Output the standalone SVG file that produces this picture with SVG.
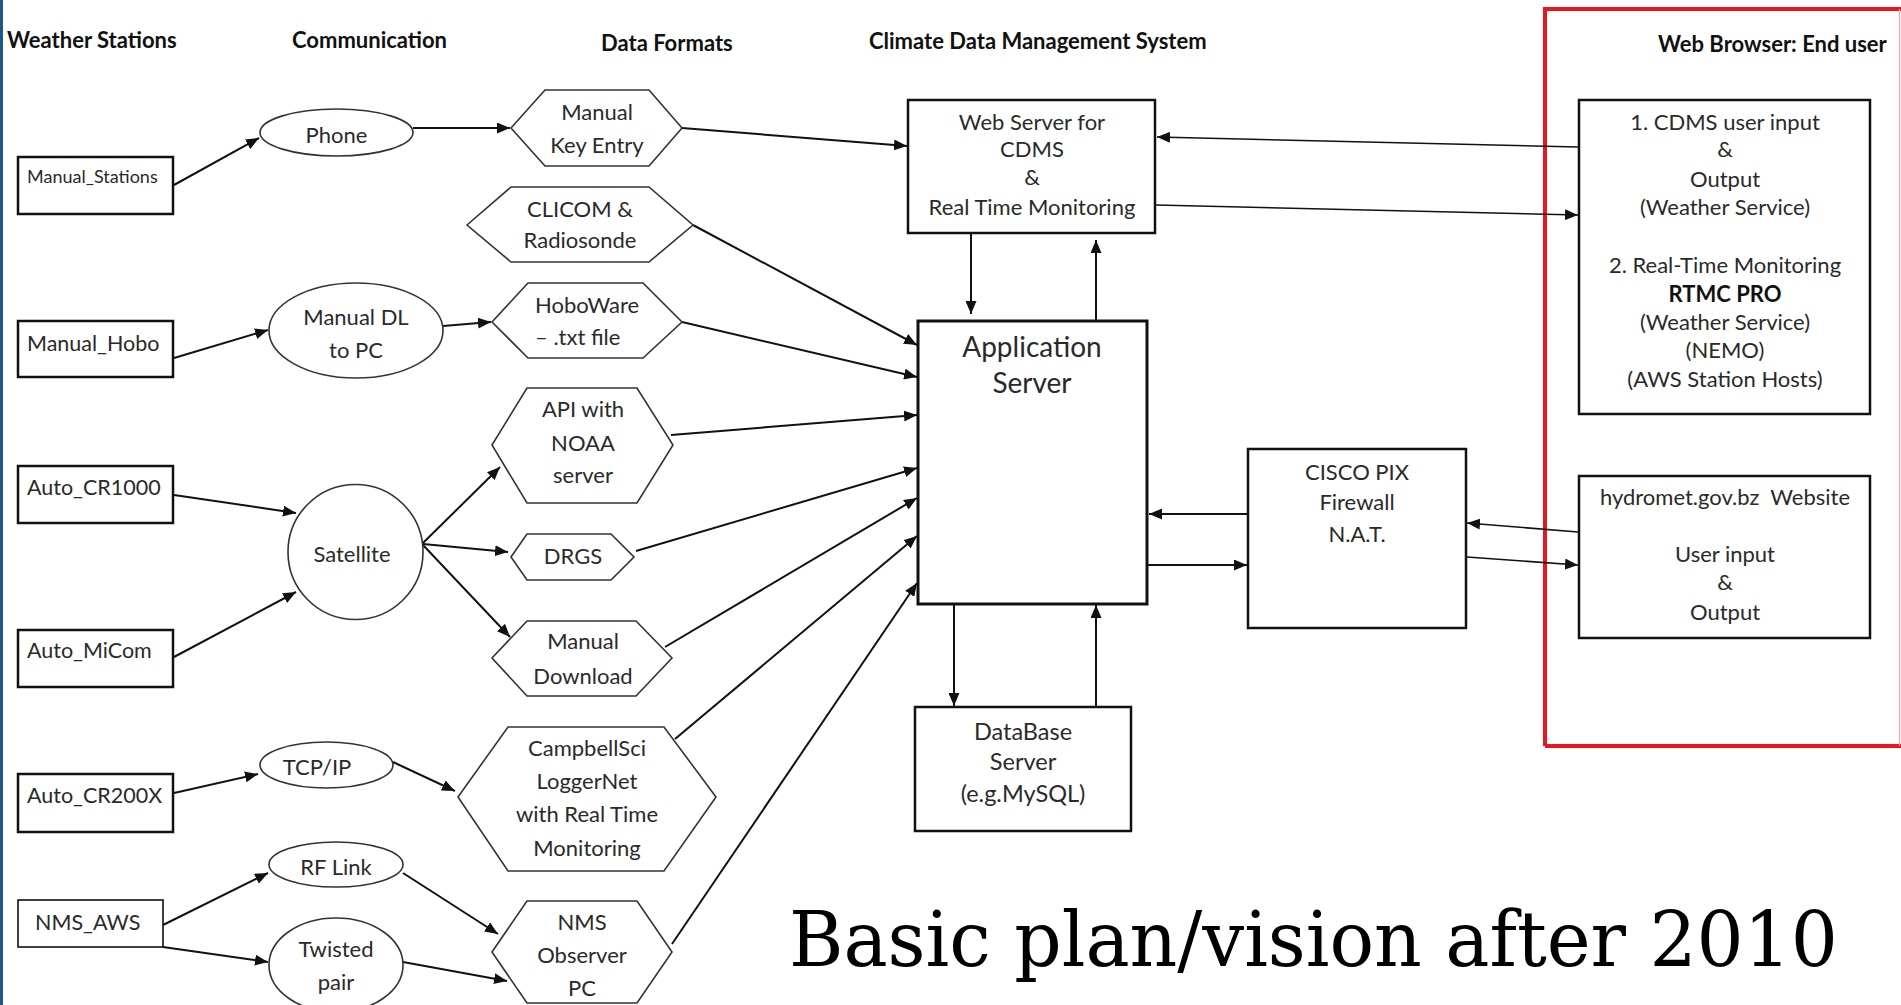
<svg xmlns="http://www.w3.org/2000/svg" width="1901" height="1005" viewBox="0 0 1901 1005">
  <style>
    .hdr { font-family: Lato, "Open Sans", sans-serif; font-weight: bold; font-size: 22px; fill: #111; }
    .t { font-family: Lato, "Open Sans", sans-serif; font-size: 22px; fill: #2a2a2a; text-anchor: middle; }
    .ts { font-family: Lato, "Open Sans", sans-serif; font-size: 21.5px; fill: #2a2a2a; }
    .th { font-family: Lato, "Open Sans", sans-serif; font-size: 22px; fill: #2a2a2a; text-anchor: middle; }
    .box { fill: #fff; stroke: #111; stroke-width: 2.5; }
    .hex { fill: #fff; stroke: #333; stroke-width: 1.6; }
    .oval { fill: #fff; stroke: #333; stroke-width: 1.6; }
    .edge { fill: none; stroke: #111; stroke-width: 2; marker-end: url(#arrow); }
    .edge.thin { stroke-width: 1.6; }
  </style>
  <defs>
    <marker id="arrow" markerUnits="userSpaceOnUse" markerWidth="13" markerHeight="11" refX="13" refY="5.5" orient="auto">
      <path d="M0,0 L13,5.5 L0,11 z" fill="#111"/>
    </marker>
  </defs>

  <rect x="0" y="0" width="1901" height="1005" fill="#fff"/>
  <rect x="0" y="0" width="3" height="1005" fill="#1d5a87"/>

  <!-- column headings -->
  <g id="headings">
    <text class="hdr" x="7" y="48">Weather Stations</text>
    <text class="hdr" x="292" y="48">Communication</text>
    <text class="hdr" x="601" y="51">Data Formats</text>
    <text class="hdr" x="869" y="49">Climate Data Management System</text>
    <text class="hdr" x="1658" y="52">Web Browser: End user</text>
  </g>

  <!-- end-user frame -->
  <g id="end-user-frame">
    <path d="M1545,746 L1545,9 L1901,9 M1545,746 L1901,746" fill="none" stroke="#e8161e" stroke-width="4"/>
    <line x1="1899.5" y1="9" x2="1899.5" y2="746" stroke="#f2a3a7" stroke-width="1.2"/>
  </g>

  <!-- connectors -->
  <g id="connectors">
    <line class="edge" x1="174" y1="185" x2="259" y2="138"/>
    <line class="edge" x1="413" y1="128" x2="510" y2="128"/>
    <line class="edge" x1="682" y1="128" x2="907" y2="146"/>
    <line class="edge" x1="693" y1="225" x2="917" y2="345"/>
    <line class="edge" x1="174" y1="358" x2="268" y2="330"/>
    <line class="edge" x1="443" y1="326" x2="491" y2="322"/>
    <line class="edge" x1="682" y1="322" x2="917" y2="377"/>
    <line class="edge" x1="671" y1="435" x2="917" y2="415"/>
    <line class="edge" x1="636" y1="551" x2="917" y2="468"/>
    <line class="edge" x1="665" y1="647" x2="917" y2="498"/>
    <line class="edge" x1="675" y1="739" x2="917" y2="536"/>
    <line class="edge" x1="672" y1="944" x2="917" y2="583"/>
    <line class="edge" x1="174" y1="495" x2="296" y2="513"/>
    <line class="edge" x1="174" y1="657" x2="296" y2="592"/>
    <line class="edge" x1="423" y1="543" x2="500" y2="467"/>
    <line class="edge" x1="423" y1="544" x2="508" y2="552"/>
    <line class="edge" x1="423" y1="545" x2="510" y2="637"/>
    <line class="edge" x1="174" y1="793" x2="258" y2="774"/>
    <line class="edge" x1="393" y1="762" x2="455" y2="791"/>
    <line class="edge" x1="163" y1="925" x2="268" y2="873"/>
    <line class="edge" x1="163" y1="947" x2="268" y2="962"/>
    <line class="edge" x1="403" y1="873" x2="498" y2="934"/>
    <line class="edge" x1="403" y1="962" x2="507" y2="981"/>
    <line class="edge" x1="971" y1="233" x2="971" y2="314"/>
    <line class="edge" x1="1096" y1="321" x2="1096" y2="240"/>
    <line class="edge thin" x1="1578" y1="147" x2="1157" y2="137"/>
    <line class="edge thin" x1="1156" y1="205" x2="1578" y2="215"/>
    <line class="edge" x1="1248" y1="514" x2="1149" y2="514"/>
    <line class="edge" x1="1148" y1="565" x2="1247" y2="565"/>
    <line class="edge thin" x1="1578" y1="532" x2="1467" y2="523"/>
    <line class="edge thin" x1="1467" y1="557" x2="1578" y2="565"/>
    <line class="edge" x1="954" y1="604" x2="954" y2="706"/>
    <line class="edge" x1="1096" y1="707" x2="1096" y2="605"/>
  </g>

  <!-- weather stations -->
  <g id="manual-stations">
    <rect class="box" x="18" y="157" width="155" height="57"/>
    <text class="ts" x="27" y="183" style="font-size:18px">Manual_Stations</text>
  </g>
  <g id="manual-hobo">
    <rect class="box" x="18" y="321" width="155" height="56"/>
    <text class="ts" x="27" y="351">Manual_Hobo</text>
  </g>
  <g id="auto-cr1000">
    <rect class="box" x="18" y="466" width="155" height="57"/>
    <text class="ts" x="27" y="495">Auto_CR1000</text>
  </g>
  <g id="auto-micom">
    <rect class="box" x="18" y="630" width="155" height="57"/>
    <text class="ts" x="27" y="658">Auto_MiCom</text>
  </g>
  <g id="auto-cr200x">
    <rect class="box" x="18" y="774" width="155" height="58"/>
    <text class="ts" x="27" y="803">Auto_CR200X</text>
  </g>
  <g id="nms-aws">
    <rect class="box" x="18" y="900" width="145" height="47" style="stroke-width:1.6"/>
    <text class="ts" x="35" y="930">NMS_AWS</text>
  </g>

  <!-- communication links -->
  <g id="phone">
    <ellipse class="oval" cx="336.5" cy="132.5" rx="76.5" ry="23.5"/>
    <text class="th" x="336.5" y="143">Phone</text>
  </g>
  <g id="manual-dl">
    <ellipse class="oval" cx="356" cy="330.5" rx="87" ry="47.5"/>
    <text class="th" x="356" y="325">Manual DL</text>
    <text class="th" x="356" y="358">to PC</text>
  </g>
  <g id="satellite">
    <circle class="oval" cx="355.5" cy="552" r="67.5"/>
    <text class="th" x="352" y="562">Satellite</text>
  </g>
  <g id="tcp-ip">
    <ellipse class="oval" cx="326.5" cy="765" rx="66.5" ry="23"/>
    <text class="th" x="317" y="775">TCP/IP</text>
  </g>
  <g id="rf-link">
    <ellipse class="oval" cx="336" cy="864.5" rx="67" ry="22.5"/>
    <text class="th" x="336" y="875">RF Link</text>
  </g>
  <g id="twisted-pair">
    <ellipse class="oval" cx="336" cy="965" rx="67" ry="47"/>
    <text class="th" x="336" y="957">Twisted</text>
    <text class="th" x="336" y="990">pair</text>
  </g>

  <!-- data formats -->
  <g id="manual-key-entry">
    <polygon class="hex" points="511,128 545,90 649,90 682,128 649,166 545,166"/>
    <text class="th" x="597" y="120">Manual</text>
    <text class="th" x="597" y="153">Key Entry</text>
  </g>
  <g id="clicom">
    <polygon class="hex" points="467,225 511,187 649,187 693,225 649,262 511,262"/>
    <text class="th" x="580" y="217">CLICOM &amp;</text>
    <text class="th" x="580" y="248">Radiosonde</text>
  </g>
  <g id="hoboware">
    <polygon class="hex" points="492,322 528,283 643,283 682,322 643,358 528,358"/>
    <text class="ts" x="535" y="313" style="font-size:22px">HoboWare</text>
    <text class="ts" x="535" y="345" style="font-size:22px">– .txt file</text>
  </g>
  <g id="api-noaa">
    <polygon class="hex" points="492,445 527,388 637,388 673,445 637,503 527,503"/>
    <text class="th" x="583" y="417">API with</text>
    <text class="th" x="583" y="451">NOAA</text>
    <text class="th" x="583" y="483">server</text>
  </g>
  <g id="drgs">
    <polygon class="hex" points="511,557 527,534 611,534 634,557 611,580 527,580"/>
    <text class="th" x="573" y="564">DRGS</text>
  </g>
  <g id="manual-download">
    <polygon class="hex" points="492,658 527,621 636,621 672,658 636,696 527,696"/>
    <text class="th" x="583" y="649">Manual</text>
    <text class="th" x="583" y="684">Download</text>
  </g>
  <g id="campbellsci">
    <polygon class="hex" points="458,797 508,727 664,727 716,797 664,871 508,871"/>
    <text class="th" x="587" y="756">CampbellSci</text>
    <text class="th" x="587" y="789">LoggerNet</text>
    <text class="th" x="587" y="822">with Real Time</text>
    <text class="th" x="587" y="856">Monitoring</text>
  </g>
  <g id="nms-observer">
    <polygon class="hex" points="492,952 527,901 637,901 672,952 637,1003 527,1003"/>
    <text class="th" x="582" y="930">NMS</text>
    <text class="th" x="582" y="963">Observer</text>
    <text class="th" x="582" y="996">PC</text>
  </g>

  <!-- climate data management system -->
  <g id="web-server">
    <rect class="box" x="908" y="100" width="247" height="133"/>
    <text class="t" x="1032" y="130">Web Server for</text>
    <text class="t" x="1032" y="157">CDMS</text>
    <text class="t" x="1032" y="185">&amp;</text>
    <text class="t" x="1032" y="215">Real Time Monitoring</text>
  </g>
  <g id="application-server">
    <rect class="box" x="918" y="321" width="229" height="283" style="stroke-width:3"/>
    <text class="t" x="1032" y="357" style="font-size:28px">Application</text>
    <text class="t" x="1032" y="393" style="font-size:28px">Server</text>
  </g>
  <g id="database-server">
    <rect class="box" x="915" y="707" width="216" height="124"/>
    <text class="t" x="1023" y="740" style="font-size:23.5px">DataBase</text>
    <text class="t" x="1023" y="770" style="font-size:23.5px">Server</text>
    <text class="t" x="1023" y="802" style="font-size:23.5px">(e.g.MySQL)</text>
  </g>
  <g id="firewall">
    <rect class="box" x="1248" y="449" width="218" height="179"/>
    <text class="t" x="1357" y="480">CISCO PIX</text>
    <text class="t" x="1357" y="510">Firewall</text>
    <text class="t" x="1357" y="542">N.A.T.</text>
  </g>

  <!-- end user -->
  <g id="cdms-user">
    <rect class="box" x="1579" y="100" width="291" height="314"/>
    <text class="t" x="1725" y="130">1. CDMS user input</text>
    <text class="t" x="1725" y="157">&amp;</text>
    <text class="t" x="1725" y="187">Output</text>
    <text class="t" x="1725" y="215">(Weather Service)</text>
    <text class="t" x="1725" y="273">2. Real-Time Monitoring</text>
    <text class="t" x="1725" y="302" style="font-weight:bold;fill:#111">RTMC PRO</text>
    <text class="t" x="1725" y="330">(Weather Service)</text>
    <text class="t" x="1725" y="358">(NEMO)</text>
    <text class="t" x="1725" y="387">(AWS Station Hosts)</text>
  </g>
  <g id="hydromet-website">
    <rect class="box" x="1579" y="476" width="291" height="162"/>
    <text class="t" x="1725" y="505">hydromet.gov.bz &#160;Website</text>
    <text class="t" x="1725" y="562">User input</text>
    <text class="t" x="1725" y="590">&amp;</text>
    <text class="t" x="1725" y="620">Output</text>
  </g>

  <text x="789" y="966" font-family="'DejaVu Serif Condensed', 'DejaVu Serif', serif" font-stretch="condensed" font-size="76" fill="#000" textLength="1049" lengthAdjust="spacingAndGlyphs">Basic plan/vision after 2010</text>
</svg>
